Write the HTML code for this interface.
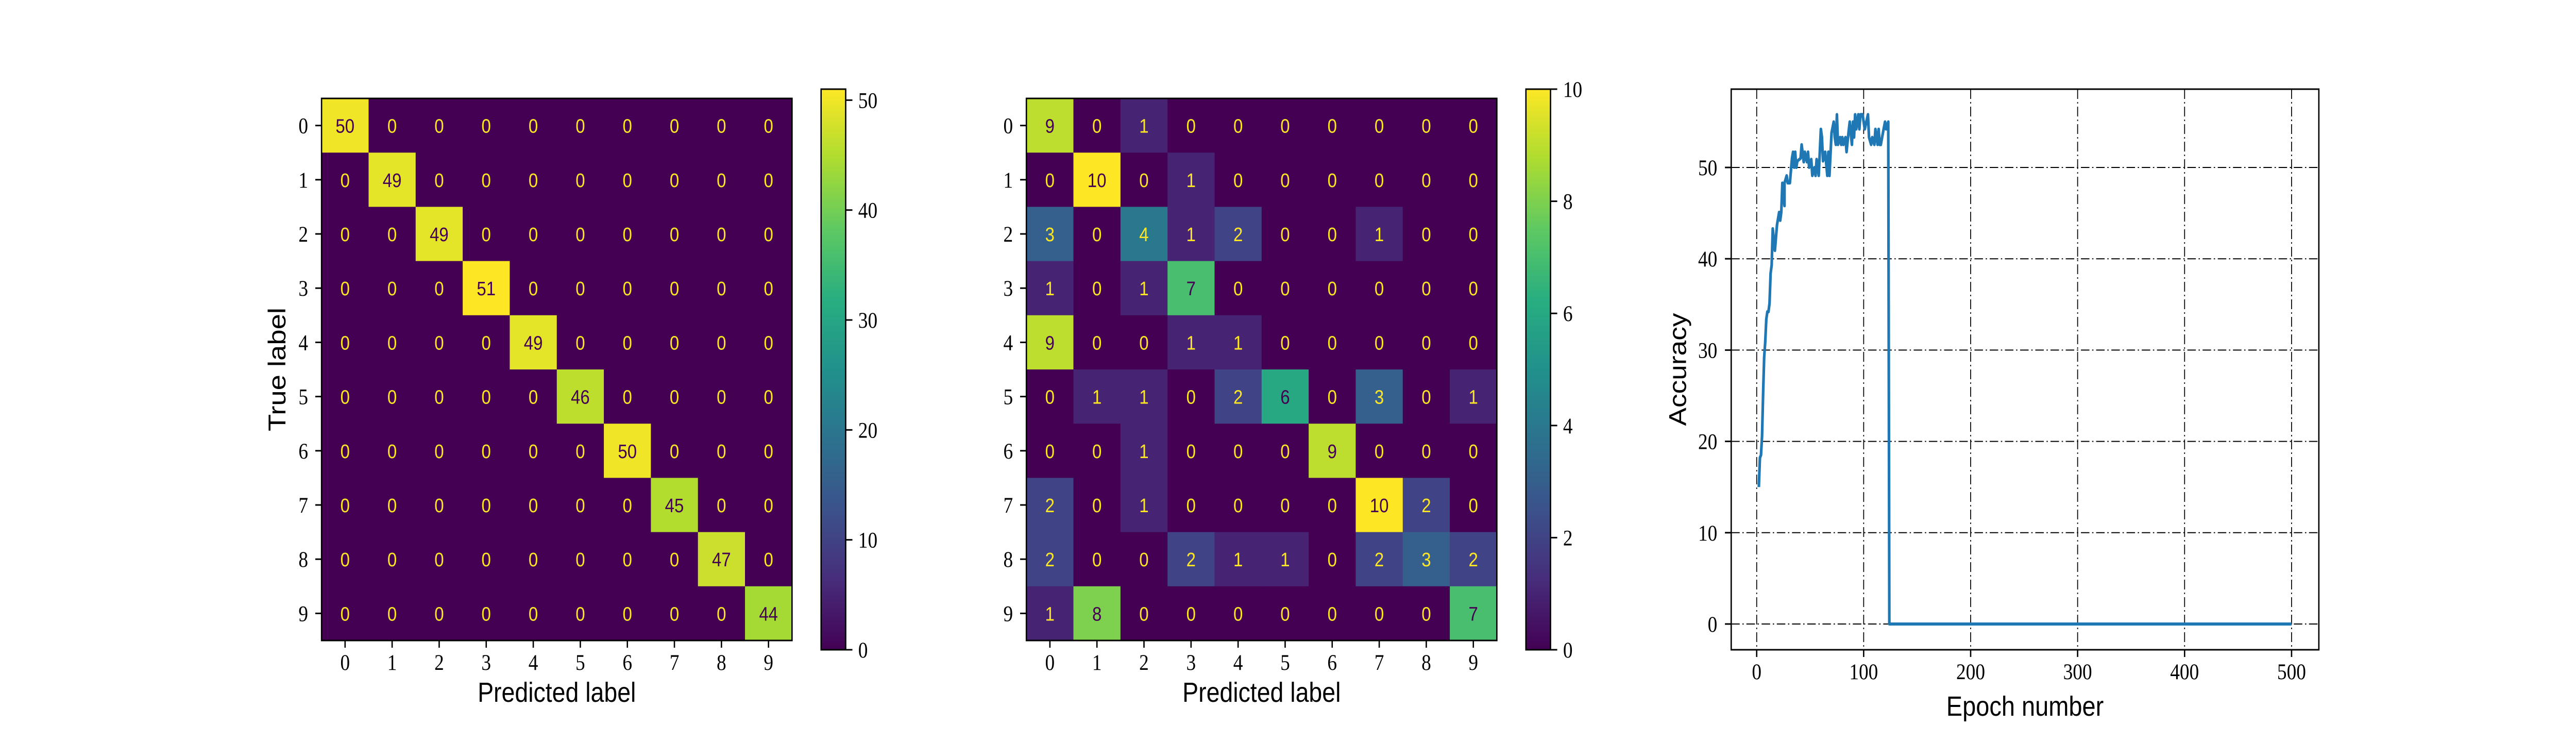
<!DOCTYPE html>
<html><head><meta charset="utf-8"><style>
html,body{margin:0;padding:0;background:#fff;width:100%;height:100%;overflow:hidden;}
svg{display:block;width:100vw;height:100vh;}
.tick{font-family:"Liberation Serif",serif;font-size:43px;fill:#000;}
.lab{font-family:"Liberation Sans",sans-serif;font-size:54px;fill:#000;}
.cell{font-family:"Liberation Sans",sans-serif;font-size:38px;}
</style></head><body>
<svg id="fig" viewBox="0 0 5760 1440" preserveAspectRatio="none" xmlns="http://www.w3.org/2000/svg">
<defs>
<linearGradient id="vir" x1="0" y1="1" x2="0" y2="0">
<stop offset="0" stop-color="#440154"/><stop offset="0.125" stop-color="#472d7b"/><stop offset="0.25" stop-color="#3b528b"/><stop offset="0.375" stop-color="#2c728e"/><stop offset="0.5" stop-color="#21918c"/><stop offset="0.625" stop-color="#28ae80"/><stop offset="0.75" stop-color="#5ec962"/><stop offset="0.875" stop-color="#addc30"/><stop offset="1" stop-color="#fde725"/>
</linearGradient>
</defs>
</svg>
<script>
const classes=[0,1,2,3,4,5,6,7,8,9];
const cm1=[
[50,0,0,0,0,0,0,0,0,0],[0,49,0,0,0,0,0,0,0,0],[0,0,49,0,0,0,0,0,0,0],[0,0,0,51,0,0,0,0,0,0],[0,0,0,0,49,0,0,0,0,0],
[0,0,0,0,0,46,0,0,0,0],[0,0,0,0,0,0,50,0,0,0],[0,0,0,0,0,0,0,45,0,0],[0,0,0,0,0,0,0,0,47,0],[0,0,0,0,0,0,0,0,0,44]];
const cm2=[
[9,0,1,0,0,0,0,0,0,0],[0,10,0,1,0,0,0,0,0,0],[3,0,4,1,2,0,0,1,0,0],[1,0,1,7,0,0,0,0,0,0],[9,0,0,1,1,0,0,0,0,0],
[0,1,1,0,2,6,0,3,0,1],[0,0,1,0,0,0,9,0,0,0],[2,0,1,0,0,0,0,10,2,0],[2,0,0,2,1,1,0,2,3,2],[1,8,0,0,0,0,0,0,0,7]];
const cb1Ticks=[0,10,20,30,40,50];
const cb2Ticks=[0,2,4,6,8,10];
const epochs=[2,3,4,5,6,7,8,9,10,11,12,13,14,15,17,19,21,22,23,24,26,26,28,29,31,33,34,35,36,37,38,41,42,44,45,47,48,49,51,52,54,55,56,58,60,61,62,64,66,67,68,70,72,73,74,75,76,78,79,80,81,83,84,86,87,89,90,91,92,93,95,96,97,99,101,104,105,107,108,110,111,113,114,115,116,118,120,121,123,124,500];
const acc=[15.0,18.2,18.5,20.6,25.3,29.2,30.9,33.4,34.2,34.2,35.1,38.4,39.3,43.3,40.9,43.7,45.1,44.2,45.1,48.3,45.8,48.3,49.1,48.3,48.3,51.0,51.7,50.0,51.7,50.0,50.7,51.0,52.5,50.6,51.7,50.6,51.7,50.0,50.9,49.1,50.0,49.1,50.9,49.1,54.2,53.3,50.7,51.7,49.1,51.7,49.1,53.8,55.0,53.3,52.5,55.8,52.5,53.3,52.5,53.3,52.5,53.3,51.7,54.0,55.0,52.5,55.0,53.3,55.8,54.2,55.8,54.2,55.8,55.8,54.2,55.8,53.3,52.5,53.3,52.5,54.2,52.5,54.2,52.5,52.5,53.8,55.0,54.2,55.0,0,0];
const xTicksLine=[0,100,200,300,400,500];
const yTicksLine=[0,10,20,30,40,50];

const NS="http://www.w3.org/2000/svg";
const svg=document.getElementById('fig');
function mk(tag,attrs,parent){const e=document.createElementNS(NS,tag);for(const k in attrs)e.setAttribute(k,attrs[k]);(parent||svg).appendChild(e);return e;}
const stops=[[0,[68,1,84]],[0.125,[71,45,123]],[0.25,[59,82,139]],[0.375,[44,114,142]],[0.5,[33,145,140]],[0.625,[40,174,128]],[0.75,[94,201,98]],[0.875,[173,220,48]],[1,[253,231,37]]];
function viridis(t){t=Math.max(0,Math.min(1,t));for(let i=1;i<stops.length;i++){if(t<=stops[i][0]){const a=stops[i-1],b=stops[i];const f=(t-a[0])/(b[0]-a[0]);const c=a[1].map((v,j)=>Math.round(v+(b[1][j]-v)*f));return `rgb(${c[0]},${c[1]},${c[2]})`;}}return 'rgb(253,231,37)';}

function heatmap(data,x0,prefix,showYLabel,vmax,cbx,cbTicks){
  const y0=191,size=1052,cs=size/10;
  const g=mk('g',{});
  
  
  data.forEach((row,r)=>row.forEach((v,c)=>{
    const rc=mk('rect',{x:x0+c*cs,y:y0+r*cs,width:cs+0.6,height:cs+0.6,fill:viridis(v/vmax)},g);
    
    
    const t=mk('text',{x:x0+c*cs+cs/2,y:y0+r*cs+cs/2+14,'text-anchor':'middle',class:'cell',fill:(v>vmax/2)?'#440154':'#fde725'},g);
    t.textContent=v;
    
    
  }));
  const fr=mk('rect',{x:x0,y:y0,width:size,height:size,fill:'none',stroke:'#000','stroke-width':3},g);
  
  
  classes.forEach((k,i)=>{
    const cx=x0+i*cs+cs/2, cy=y0+i*cs+cs/2;
    mk('line',{x1:cx,y1:y0+size,x2:cx,y2:y0+size+14,stroke:'#000','stroke-width':3},g);
    const tx=mk('text',{x:cx,y:1300,'text-anchor':'middle',class:'tick'},g);tx.textContent=k;
    
    
    mk('line',{x1:x0-14,y1:cy,x2:x0,y2:cy,stroke:'#000','stroke-width':3},g);
    const ty=mk('text',{x:x0-30,y:cy+15,'text-anchor':'end',class:'tick'},g);ty.textContent=k;
    
    
  });
  const xl=mk('text',{x:x0+size/2,y:1362,'text-anchor':'middle',class:'lab',textLength:354,lengthAdjust:'spacingAndGlyphs'},g);
  xl.textContent='Predicted label';
  
  
  if(showYLabel){
    const yl=mk('text',{x:0,y:0,'text-anchor':'middle',class:'lab',textLength:240,lengthAdjust:'spacingAndGlyphs',transform:`translate(638,717) rotate(-90)`},g);
    yl.textContent='True label';
    
    
  }
  const cbTop=173,cbBot=1261;
  const cb=mk('rect',{x:cbx,y:cbTop,width:55,height:cbBot-cbTop,fill:'url(#vir)',stroke:'#000','stroke-width':3},g);
  
  
  cbTicks.forEach(v=>{
    const yy=cbBot-(v/vmax)*(cbBot-cbTop);
    mk('line',{x1:cbx+55,y1:yy,x2:cbx+70,y2:yy,stroke:'#000','stroke-width':3},g);
    const t=mk('text',{x:cbx+83,y:yy+15,class:'tick'},g);t.textContent=v;
    
    
  });
}
heatmap(cm1,719,'train',true,51,1836,cb1Ticks);
heatmap(cm2,2295,'test',false,10,3412,cb2Ticks);

(function(){
  const L=3871,R=5185,T=173,B=1261;
  const X=e=>3928+e*(5124-3928)/500;
  const Y=a=>1211-a*17.72;
  const g=mk('g',{});
  
  
  const dash='19,6,3,6';
  xTicksLine.forEach(v=>{
    const gl=mk('line',{x1:X(v),y1:T,x2:X(v),y2:B,stroke:'#000','stroke-width':2,'stroke-dasharray':dash},g);
    
    
    mk('line',{x1:X(v),y1:B,x2:X(v),y2:B+14,stroke:'#000','stroke-width':3},g);
    const t=mk('text',{x:X(v),y:1318,'text-anchor':'middle',class:'tick'},g);t.textContent=v;
    
    
  });
  yTicksLine.forEach(v=>{
    const gl=mk('line',{x1:L,y1:Y(v),x2:R,y2:Y(v),stroke:'#000','stroke-width':2,'stroke-dasharray':dash},g);
    
    
    mk('line',{x1:L-14,y1:Y(v),x2:L,y2:Y(v),stroke:'#000','stroke-width':3},g);
    const t=mk('text',{x:3840,y:Y(v)+15,'text-anchor':'end',class:'tick'},g);t.textContent=v;
    
    
  });
  const pts=epochs.map((e,i)=>X(e).toFixed(1)+','+Y(acc[i]).toFixed(1)).join(' ');
  const pl=mk('polyline',{points:pts,fill:'none',stroke:'#1f77b4','stroke-width':6,'stroke-linejoin':'round'},g);
  
  
  const fr=mk('rect',{x:L,y:T,width:R-L,height:B-T,fill:'none',stroke:'#000','stroke-width':3},g);
  
  
  const xl=mk('text',{x:4528,y:1389,'text-anchor':'middle',class:'lab',textLength:352,lengthAdjust:'spacingAndGlyphs'},g);
  xl.textContent='Epoch number';
  
  
  const yl=mk('text',{x:0,y:0,'text-anchor':'middle',class:'lab',textLength:219,lengthAdjust:'spacingAndGlyphs',transform:'translate(3770,717) rotate(-90)'},g);
  yl.textContent='Accuracy';
  
  
})();
</script>
</body></html>
